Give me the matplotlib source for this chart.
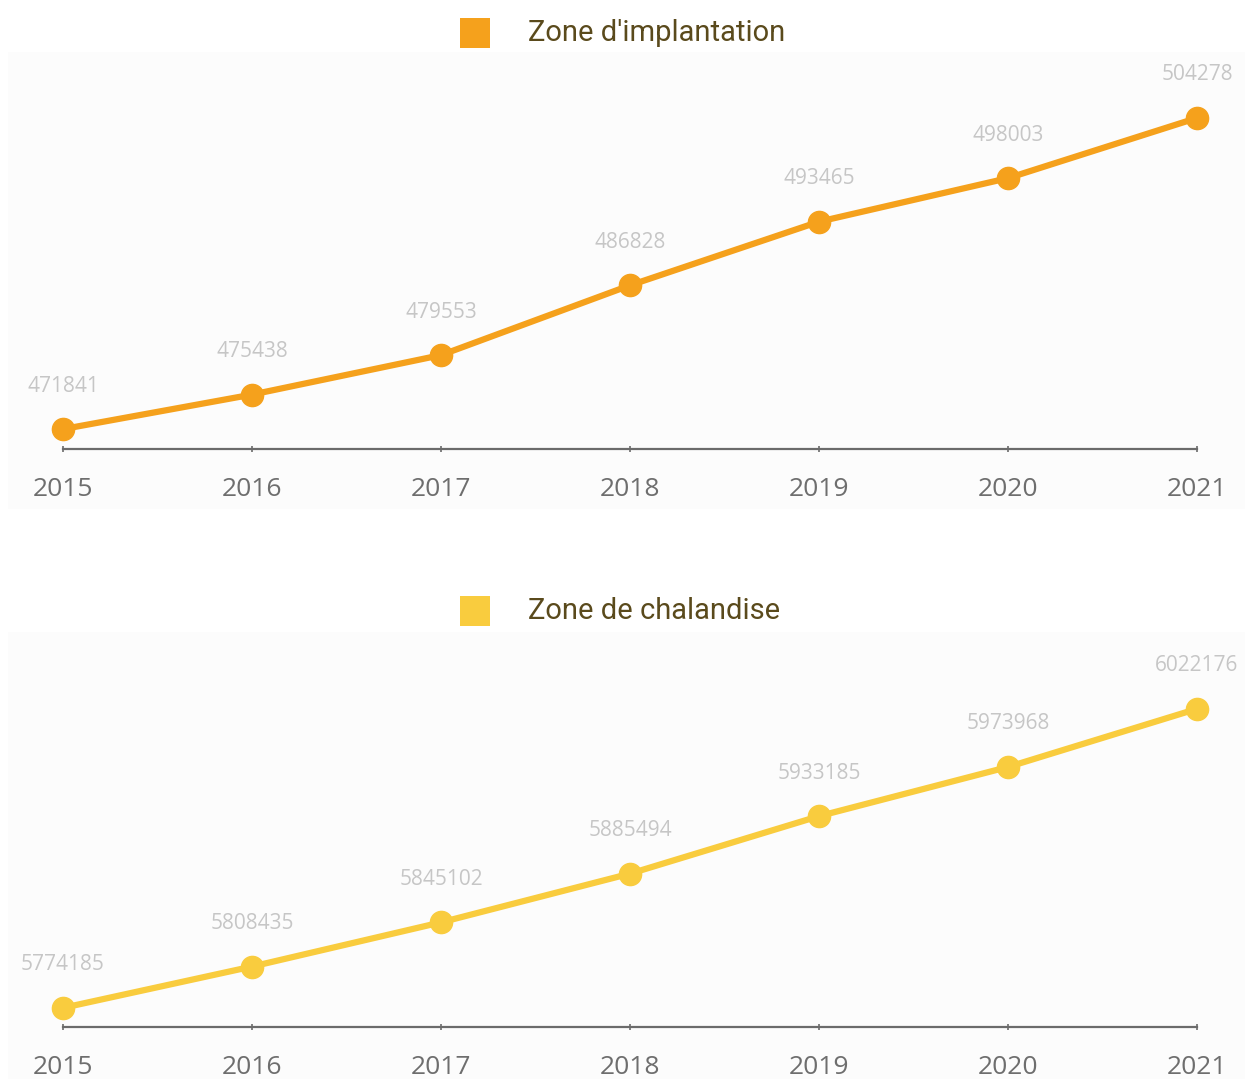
import matplotlib
matplotlib.use("Agg")
import matplotlib.pyplot as plt
from matplotlib.patches import Rectangle

years = [2015, 2016, 2017, 2018, 2019, 2020, 2021]
implantation = [471841, 475438, 479553, 486828, 493465, 498003, 504278]
chalandise = [5774185, 5808435, 5845102, 5885494, 5933185, 5973968, 6022176]

plt.rcParams['font.family'] = ['Open Sans', 'DejaVu Sans']

W, H = 1245, 1079
fig = plt.figure(figsize=(W / 100, H / 100), dpi=100)
fig.patch.set_facecolor('white')

def px(x0, y0, x1, y1):
    # figure coords from pixel box
    return [x0 / W, 1 - y1 / H, (x1 - x0) / W, (y1 - y0) / H]

def panel(box_top, axis_y, values, color, title, legend_y):
    # faint background of the plot area
    fig.patches.append(Rectangle((8 / W, 1 - axis_y / H - 60 / H), 1 - 8 / W,
                                 (axis_y - box_top + 60) / H,
                                 transform=fig.transFigure, facecolor='#fcfcfc',
                                 edgecolor='none', zorder=-5))
    ax = fig.add_axes(px(63, box_top, 1197, axis_y))
    ax.set_facecolor('none')
    ax.set_zorder(2)
    lo, hi = min(values), max(values)
    rng = hi - lo
    ax.set_xlim(years[0], years[-1])
    ax.plot(years, values, color=color, lw=4.5, marker='o', ms=16,
            clip_on=False, zorder=3, solid_capstyle='round')
    for x, v in zip(years, values):
        ax.annotate(str(v), (x, v), xytext=(0, 31), textcoords='offset points',
                    ha='center', va='center', fontsize=15, color='#c6c6c6',
                    zorder=2)
    for s in ['top', 'right', 'left']:
        ax.spines[s].set_visible(False)
    ax.spines['bottom'].set_color('#6b6b6b')
    ax.spines['bottom'].set_linewidth(1.6)
    ax.set_yticks([])
    ax.set_xticks(years)
    ax.set_xticklabels([str(y) for y in years])
    ax.tick_params(axis='x', direction='inout', length=5, width=1.2,
                   color='#6b6b6b', labelsize=19, labelcolor='#6e6e6e', pad=18)
    # legend: colored square + title
    fig.patches.append(Rectangle((460 / W, 1 - (legend_y + 15) / H), 30 / W, 30 / H,
                                 transform=fig.transFigure, facecolor=color,
                                 edgecolor='none'))
    fig.text(528 / W, 1 - legend_y / H, title, fontsize=21, color='#5a4a1c',
             family=['Roboto', 'DejaVu Sans'], va='center', ha='left')
    return ax, lo, rng

ax1, lo1, r1 = panel(52, 449, implantation, '#F5A11C', "Zone d'implantation", 33)
ax1.set_ylim(lo1 - 0.064 * r1, lo1 + r1 * (1 + 0.212))

ax2, lo2, r2 = panel(632, 1027, chalandise, '#F9CC3E', "Zone de chalandise", 611)
ax2.set_ylim(lo2 - 0.064 * r2, lo2 + r2 * (1 + 0.257))

fig.savefig('out.png', dpi=100)
